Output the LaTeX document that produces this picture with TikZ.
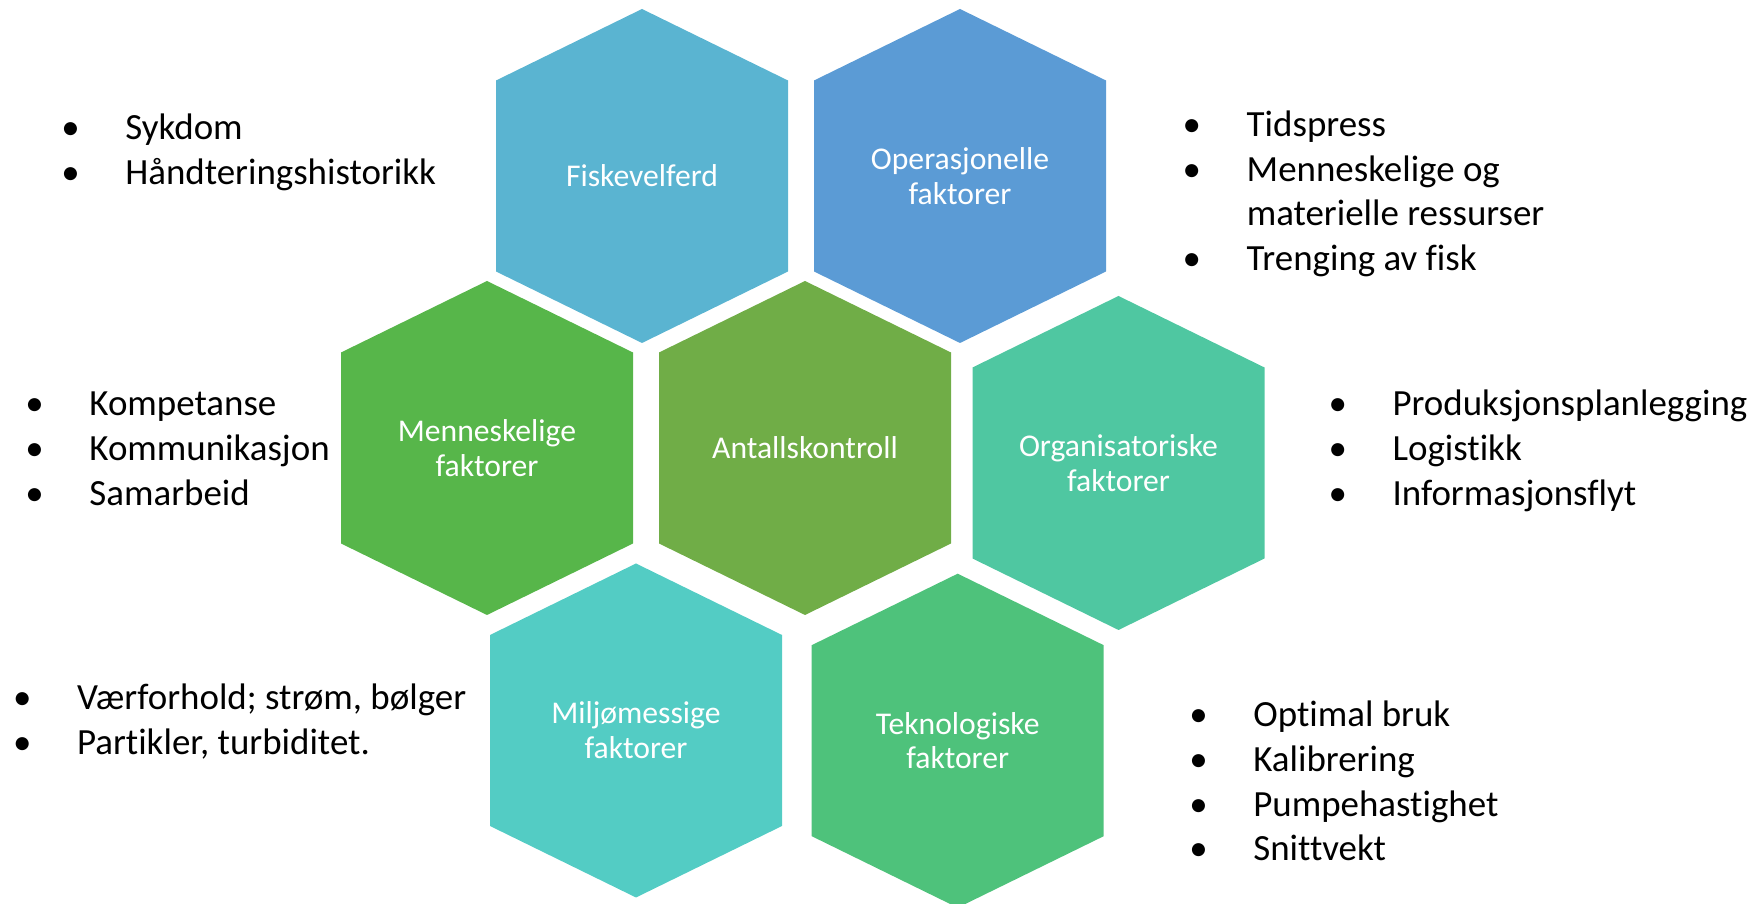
\documentclass[tikz,border=0pt]{standalone}
\usepackage{fontspec}
\setmainfont{Carlito}[Ligatures=CommonOff]
\definecolor{fiskfarge}{HTML}{5AB4D1}
\definecolor{operfarge}{HTML}{5B9BD5}
\definecolor{mennfarge}{HTML}{57B64A}
\definecolor{antallfarge}{HTML}{70AD47}
\definecolor{orgfarge}{HTML}{4FC7A1}
\definecolor{miljfarge}{HTML}{53CCC4}
\definecolor{teknfarge}{HTML}{4EC27B}
\tikzset{
  etikett/.style={text=white, align=center, inner sep=0pt, font=\fontsize{9}{9.9}\selectfont},
  liste/.style={anchor=base west, inner sep=0pt, font=\fontsize{10.5}{12.7}\selectfont}
}
\newcommand{\punktliste}[1]{\begin{tabular}[t]{@{}p{0.64cm}@{}l@{}}#1\end{tabular}}
\begin{document}
\begin{tikzpicture}[x=0.01cm, y=-0.01cm]
  \useasboundingbox (0,0) rectangle (1760,904);
  % sekskantene
  \foreach \navn/\x/\y/\farge/\tekst in {
      fisk/642/176/fiskfarge/Fiskevelferd,
      oper/960/176/operfarge/{Operasjonelle\\faktorer},
      menn/487/448/mennfarge/{Menneskelige\\faktorer},
      antall/805/448/antallfarge/Antallskontroll,
      org/1118.5/463/orgfarge/{Organisatoriske\\faktorer},
      milj/636/730.5/miljfarge/{Miljømessige\\faktorer},
      tekn/957.7/740.7/teknfarge/{Teknologiske\\faktorer}} {
    \fill[\farge] (\x,\y) ++(0,-167) -- ++(146,71.5) -- ++(0,191) -- ++(-146,71.5)
      -- ++(-146,-71.5) -- ++(0,-191) -- cycle;
    \node[etikett] (\navn) at (\x,\y) {\tekst};
  }
  % punktlistene
  \node[liste] (fiskliste) at (60.6,140) {\punktliste{\textbullet & Sykdom\\ \textbullet & Håndteringshistorikk}};
  \node[liste] (operliste) at (1182,136.5) {\punktliste{\textbullet & Tidspress\\ \textbullet & Menneskelige og\\ & materielle ressurser\\ \textbullet & Trenging av fisk}};
  \node[liste] (mennliste) at (24.7,416) {\punktliste{\textbullet & Kompetanse\\ \textbullet & Kommunikasjon\\ \textbullet & Samarbeid}};
  \node[liste] (orgliste) at (1327.8,416) {\punktliste{\textbullet & Produksjonsplanlegging\\ \textbullet & Logistikk\\ \textbullet & Informasjonsflyt}};
  \node[liste] (miljliste) at (12.3,710) {\punktliste{\textbullet & Værforhold; strøm, bølger\\ \textbullet & Partikler, turbiditet.}};
  \node[liste] (teknliste) at (1188.6,727) {\punktliste{\textbullet & Optimal bruk\\ \textbullet & Kalibrering\\ \textbullet & Pumpehastighet\\ \textbullet & Snittvekt}};
\end{tikzpicture}
\end{document}
